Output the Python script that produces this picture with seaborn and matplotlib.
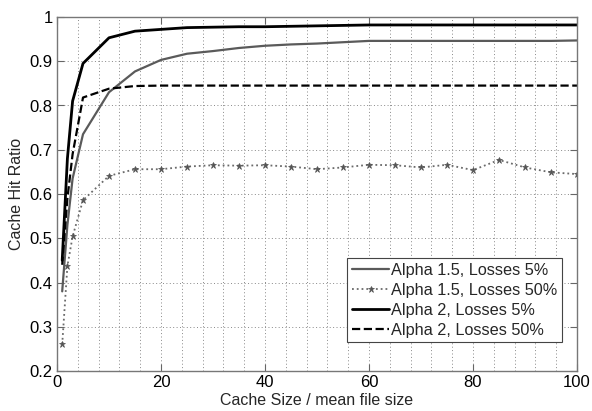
import numpy as np
import pandas as pd
import matplotlib
matplotlib.use("Agg")
import matplotlib.pyplot as plt
from matplotlib.ticker import MultipleLocator, FuncFormatter
import seaborn as sns

x = [1, 2, 3, 5, 10, 15, 20, 25, 30, 35, 40, 45, 50, 55, 60, 65, 70, 75, 80, 85, 90, 95, 100]

a15_l5 = [0.38, 0.53, 0.635, 0.735, 0.83, 0.877, 0.903, 0.917, 0.923, 0.93, 0.935, 0.938, 0.94, 0.943,
          0.946, 0.946, 0.946, 0.946, 0.946, 0.946, 0.946, 0.946, 0.947]
a15_l50 = [0.26, 0.437, 0.504, 0.586, 0.641, 0.656, 0.656, 0.662, 0.665, 0.664, 0.665, 0.662, 0.656, 0.660,
           0.666, 0.665, 0.660, 0.666, 0.654, 0.677, 0.660, 0.649, 0.645]
a2_l5 = [0.45, 0.68, 0.81, 0.895, 0.953, 0.968, 0.972, 0.976, 0.977, 0.978, 0.978, 0.979, 0.98, 0.981,
         0.982, 0.982, 0.982, 0.982, 0.982, 0.982, 0.982, 0.982, 0.982]
a2_l50 = [0.44, 0.59, 0.69, 0.818, 0.838, 0.844, 0.845, 0.845, 0.845, 0.845, 0.845, 0.845, 0.845, 0.845,
          0.845, 0.845, 0.845, 0.845, 0.845, 0.845, 0.845, 0.845, 0.845]

labels = ["Alpha 1.5, Losses 5%", "Alpha 1.5, Losses 50%", "Alpha 2, Losses 5%", "Alpha 2, Losses 50%"]
x_ticks = [0, 20, 40, 60, 80, 100]
y_ticks = [0.2, 0.3, 0.4, 0.5, 0.6, 0.7, 0.8, 0.9, 1.0]

sns.set_theme(style="white")
plt.rcParams['font.family'] = ['Liberation Sans', 'DejaVu Sans']

fig = plt.figure(figsize=(5.92, 4.11), dpi=100)
ax = fig.add_axes([57/592, 1 - 371/411, 520/592, 354/411])

styles = [
    dict(color="#5a5a5a", linestyle="-", linewidth=1.6),
    dict(color="#6a6a6a", linestyle=":", linewidth=1.3),
    dict(color="black", linestyle="-", linewidth=2.0),
    dict(color="black", linestyle="--", linewidth=1.6, dashes=(4, 2.5)),
]
series = [a15_l5, a15_l50, a2_l5, a2_l50]
for ys, lab, st in zip(series, labels, styles):
    df = pd.DataFrame({"x": x, "y": ys})
    sns.lineplot(data=df, x="x", y="y", ax=ax, label=lab, **st)

# markers on the dotted series
dl = ax.get_lines()[1]
dl.set_marker("*")
dl.set_markersize(4.5)
dl.set_markeredgewidth(0.5)
dl.set_markerfacecolor("#555555")
dl.set_markeredgecolor("#555555")

ax.set_xlim(0, 100)
ax.set_ylim(0.2, 1.0)
ax.set_xticks(x_ticks)
ax.set_yticks(y_ticks)
ax.xaxis.set_minor_locator(MultipleLocator(4))
ax.yaxis.set_major_formatter(FuncFormatter(lambda v, p: "1" if abs(v - 1) < 1e-9 else f"{v:.1f}"))
ax.xaxis.set_major_formatter(FuncFormatter(lambda v, p: f"{int(round(v))}"))

ax.grid(False)
ax.xaxis.grid(True, which="both", linestyle=(0, (1, 2.5)), color="#888888", linewidth=0.7)
ax.yaxis.grid(True, which="major", linestyle=(0, (1, 2.5)), color="#888888", linewidth=0.7)
ax.set_axisbelow(True)

ax.tick_params(which="major", direction="in", length=5, width=0.8, color="#666666",
               top=True, right=True, bottom=True, left=True, labelsize=12, labelcolor="black", pad=3)
ax.tick_params(which="minor", length=0, top=False, bottom=False)
for s in ax.spines.values():
    s.set_color("#777777")
    s.set_linewidth(1.0)

ax.set_xlabel("Cache Size / mean file size", fontsize=11.5, labelpad=2)
ax.set_ylabel("Cache Hit Ratio", fontsize=11.5, labelpad=4)

leg = ax.legend(loc="upper left", bbox_to_anchor=(290/520, (371-258)/354), fontsize=11.7,
                frameon=True, fancybox=False, edgecolor="#444444", framealpha=1,
                handlelength=2.3, handletextpad=0.1, borderpad=0.3, labelspacing=0.3, borderaxespad=0)
leg.get_frame().set_linewidth(0.8)

fig.savefig("out.png", dpi=100)
